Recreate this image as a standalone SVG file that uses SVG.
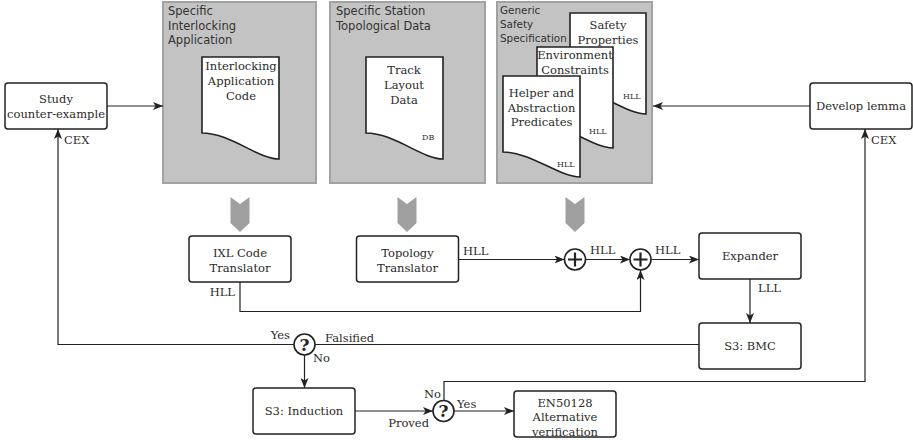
<svg xmlns="http://www.w3.org/2000/svg" width="913" height="440" viewBox="0 0 913 440">
<defs>
<style>
.panel{fill:#c3c3c3;stroke:#a2a2a2;stroke-width:2}
.ptxt{font-family:"DejaVu Sans","Noto Sans",sans-serif;font-size:11.5px;fill:#333}
.ptxs{font-family:"DejaVu Sans","Noto Sans",sans-serif;font-size:10.4px;fill:#333}
.doc{fill:#fff;stroke:#222;stroke-width:1.6}
.box{fill:#fff;stroke:#222;stroke-width:1.5}
.t,.tl,.tr,.small,.q{font-family:"DejaVu Serif","Noto Serif","Liberation Serif",serif}
.t{font-size:11.5px;fill:#2a2a2a;text-anchor:middle}
.tl{font-size:11.5px;fill:#2a2a2a}
.tr{font-size:11.5px;fill:#2a2a2a;text-anchor:end}
.small{font-size:8px;fill:#333}
.chev{fill:#a0a0a0}
.ln{fill:none;stroke:#222;stroke-width:1.2}
.circ{fill:#fff;stroke:#222;stroke-width:1.6}
.q{font-size:17px;font-weight:bold;fill:#222;text-anchor:middle}
</style>
<marker id="arr" viewBox="0 0 10 8" refX="10" refY="4" markerWidth="10" markerHeight="8" orient="auto" markerUnits="userSpaceOnUse"><path d="M0,0 L10,4 L0,8 L2.5,4 Z" fill="#222"/></marker>
</defs>

<g id="panel-ixl">
<rect class="panel" x="163" y="2" width="153" height="181"/>
<text class="ptxt" x="168" y="15">Specific</text>
<text class="ptxt" x="168" y="29.5">Interlocking</text>
<text class="ptxt" x="168" y="44">Application</text>
<path class="doc" d="M202,57 H279 V159 C258,159 230,133 202,133 Z"/>
<text class="t" x="241" y="70">Interlocking</text>
<text class="t" x="241" y="85">Application</text>
<text class="t" x="241" y="100">Code</text>
<polygon class="chev" points="230.5,197 240,204 249.5,197 249.5,223 240,232 230.5,223"/>
</g>

<g id="panel-topo">
<rect class="panel" x="330" y="2" width="155" height="181"/>
<text class="ptxt" x="336" y="15">Specific Station</text>
<text class="ptxt" x="336" y="29.5">Topological Data</text>
<path class="doc" d="M366,57 H443 V159 C422,159 394,133 366,133 Z"/>
<text class="t" x="404" y="74">Track</text>
<text class="t" x="404" y="89">Layout</text>
<text class="t" x="404" y="104">Data</text>
<text class="small" x="422" y="140">DB</text>
<polygon class="chev" points="397.5,197 407,204 416.5,197 416.5,223 407,232 397.5,223"/>
</g>

<g id="panel-spec">
<rect class="panel" x="497" y="2" width="155" height="181"/>
<text class="ptxs" x="500" y="14">Generic</text>
<text class="ptxs" x="500" y="28">Safety</text>
<text class="ptxs" x="500" y="42">Specification</text>
<path class="doc" d="M570,13 H646 V114 C625,114 598,89 570,89 Z"/>
<text class="t" x="608" y="29">Safety</text>
<text class="t" x="608" y="43.5">Properties</text>
<text class="small" x="623" y="99">HLL</text>
<path class="doc" d="M537,47 H613 V148 C592,148 565,123 537,123 Z"/>
<text class="t" x="575" y="58.5">Environment</text>
<text class="t" x="575" y="73.5">Constraints</text>
<text class="small" x="589" y="134">HLL</text>
<path class="doc" d="M503,76 H580 V177 C559,177 531,152 503,152 Z"/>
<text class="t" x="541.5" y="97">Helper and</text>
<text class="t" x="541.5" y="111.5">Abstraction</text>
<text class="t" x="541.5" y="126">Predicates</text>
<text class="small" x="557" y="167">HLL</text>
<polygon class="chev" points="565.5,197 575,204 584.5,197 584.5,223 575,232 565.5,223"/>
</g>

<g id="study">
<rect class="box" x="5" y="83" width="102" height="46" rx="3"/>
<text class="t" x="56" y="103">Study</text>
<text class="t" x="56" y="118">counter-example</text>
</g>

<g id="develop">
<rect class="box" x="810" y="83" width="102" height="46" rx="3"/>
<text class="t" x="861" y="110">Develop lemma</text>
</g>

<g id="ixl">
<rect class="box" x="189" y="236" width="102" height="46" rx="3"/>
<text class="t" x="240" y="257">IXL Code</text>
<text class="t" x="240" y="271.5">Translator</text>
</g>

<g id="topology">
<rect class="box" x="356.5" y="236" width="102" height="46" rx="3"/>
<text class="t" x="407.5" y="257">Topology</text>
<text class="t" x="407.5" y="271.5">Translator</text>
</g>

<g id="plus1">
<circle class="circ" cx="575" cy="259.5" r="10.5"/>
<path d="M568,259.5 H582 M575,252.5 V266.5" stroke="#222" stroke-width="2.2"/>
</g>

<g id="plus2">
<circle class="circ" cx="640.5" cy="259.5" r="10.5"/>
<path d="M633.5,259.5 H647.5 M640.5,252.5 V266.5" stroke="#222" stroke-width="2.2"/>
</g>

<g id="expander">
<rect class="box" x="699" y="233" width="102" height="46" rx="3"/>
<text class="t" x="750" y="259.5">Expander</text>
</g>

<g id="bmc">
<rect class="box" x="699" y="323" width="102" height="46" rx="3"/>
<text class="t" x="750" y="350">S3: BMC</text>
</g>

<g id="decision1">
<circle class="circ" cx="304.5" cy="344.5" r="10.5"/>
<text class="q" x="304.5" y="350.5">?</text>
</g>

<g id="induction">
<rect class="box" x="253" y="388" width="102" height="46" rx="3"/>
<text class="t" x="304" y="414.5">S3: Induction</text>
</g>

<g id="decision2">
<circle class="circ" cx="443.5" cy="411" r="10.5"/>
<text class="q" x="443.5" y="417">?</text>
</g>

<g id="en50128">
<rect class="box" x="514" y="391" width="102" height="46" rx="3"/>
<text class="t" x="565" y="406.5">EN50128</text>
<text class="t" x="565" y="421">Alternative</text>
<text class="t" x="565" y="435.5">verification</text>
</g>

<g id="connectors">
<path class="ln" d="M107,106 H163" marker-end="url(#arr)"/>
<path class="ln" d="M810,106 H653" marker-end="url(#arr)"/>
<path class="ln" d="M458.5,259.5 H564.5" marker-end="url(#arr)"/>
<path class="ln" d="M585.5,259.5 H630" marker-end="url(#arr)"/>
<path class="ln" d="M651,259.5 H699" marker-end="url(#arr)"/>
<path class="ln" d="M240,282 V311.5 H640.5 V270" marker-end="url(#arr)"/>
<path class="ln" d="M750,279 V323" marker-end="url(#arr)"/>
<path class="ln" d="M699,344.5 H315"/>
<path class="ln" d="M294,344.5 H58 V129" marker-end="url(#arr)"/>
<path class="ln" d="M304.5,355 V388" marker-end="url(#arr)"/>
<path class="ln" d="M355,411 H433" marker-end="url(#arr)"/>
<path class="ln" d="M454,411 H514" marker-end="url(#arr)"/>
<path class="ln" d="M444,400.5 V381.5 H865 V129" marker-end="url(#arr)"/>
<text class="tl" x="64" y="144">CEX</text>
<text class="tl" x="871" y="144">CEX</text>
<text class="tr" x="235" y="296">HLL</text>
<text class="tl" x="463" y="255">HLL</text>
<text class="tl" x="590" y="254">HLL</text>
<text class="tl" x="655" y="254">HLL</text>
<text class="tl" x="758" y="292">LLL</text>
<text class="tr" x="290" y="339">Yes</text>
<text class="tl" x="325" y="342">Falsified</text>
<text class="tl" x="313" y="362">No</text>
<text class="tr" x="429" y="427">Proved</text>
<text class="tr" x="441" y="398">No</text>
<text class="tl" x="457" y="408">Yes</text>
</g>
</svg>
